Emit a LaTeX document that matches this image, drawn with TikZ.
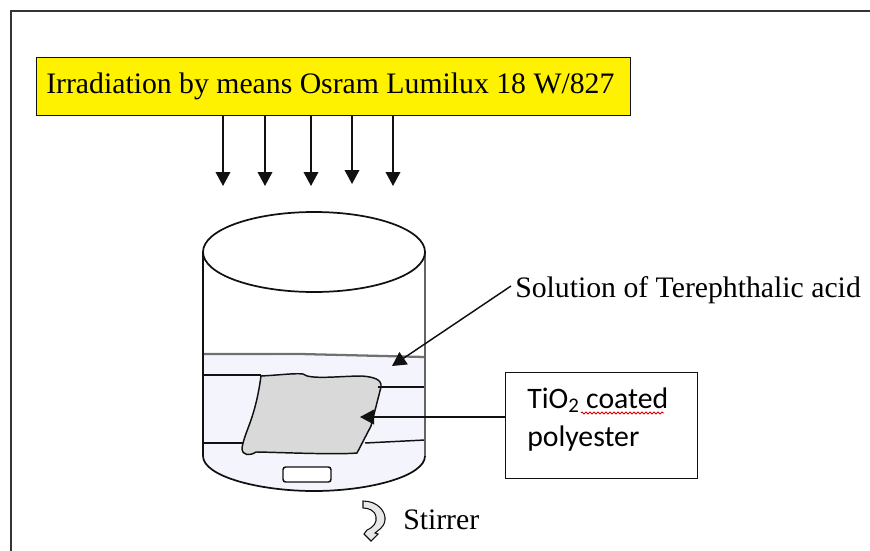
\documentclass[tikz,border=0pt]{standalone}
\usepackage{fontspec}
\setmainfont{Liberation Serif}
\newfontfamily\calibrifont{Carlito}
\usetikzlibrary{arrows.meta,decorations.pathmorphing}
\definecolor{ink}{HTML}{111111}
\definecolor{water}{HTML}{F4F4FC}
\definecolor{sheet}{HTML}{D9D9D9}
\definecolor{banner}{HTML}{FFF200}
\tikzset{
  line/.style={draw=ink,line width=1.3pt},
  thin line/.style={draw=ink,line width=1.1pt},
  arrowline/.style={draw=ink,line width=1.1pt,-{Triangle[length=10.5pt,width=11pt]}},
  serifText/.style={font=\fontsize{22.3}{24}\selectfont,text=black,inner sep=0pt,anchor=west},
  calibriText/.style={font=\calibrifont\fontsize{22.3}{24}\selectfont,text=black,inner sep=0pt,anchor=west}
}
\begin{document}
\begin{tikzpicture}[x=0.75pt,y=-0.75pt]
\useasboundingbox (0,0) rectangle (870,550);
\draw[draw=ink!85,line width=1.5pt] (11,600) -- (11,11) -- (900,11);
% banner
\node[draw=ink,line width=1.3pt,fill=banner,inner sep=0pt,anchor=north west,minimum width=445.5pt,minimum height=43.5pt] (banner) at (35.5,56.5) {};
\node[serifText] (bannertext) at (46,86) {Irradiation by means Osram Lumilux 18 W/827};
% arrows
\foreach \n/\x/\y in {a/223/186,b/265/186,c/311/186,d/352/184,e/393/186}{
  \coordinate (\n s) at (\x,116);
  \coordinate (\n e) at (\x,\y);
  \draw[arrowline] (\n s) -- (\n e);
}
% beaker liquid
\fill[water] (203,354) -- (425,358) -- (425,456) .. controls (425,476) and (370,491) .. (314,491) .. controls (258,491) and (203,476) .. (203,456) -- cycle;
% sheet
\filldraw[fill=sheet,draw=ink,line width=1.1pt] (261,376) .. controls (280,375) and (295,373) .. (303,374) .. controls (310,380) and (340,376) .. (362,376) .. controls (375,377) and (382,380) .. (381,387) -- (371,426) -- (357,453) .. controls (335,455) and (270,452) .. (256,452) .. controls (250,456) and (242,456) .. (242,448) .. controls (245,430) and (255,420) .. (261,376) -- cycle;
% lines
\draw[thin line] (203,375) -- (261,375);
\draw[thin line] (378,387) -- (425,387);
\draw[thin line] (365,443) -- (425,440);
\draw[thin line] (203,443) -- (243,443);
% beaker outline
\draw[draw=ink!60,line width=1.7pt] (203,354) -- (300,354) -- (425,357);
\draw[line] (203,252) -- (203,456) .. controls (203,476) and (258,491) .. (314,491) .. controls (370,491) and (425,476) .. (425,456);
\draw[draw=ink!65,line width=1.7pt] (425,456) -- (425,252);
\draw[line] (314,252) ellipse [x radius=111,y radius=40];
% stirrer bar
\draw[thin line,rounded corners=2pt,fill=white] (283,467) rectangle (331,482);
% coated box
\node[draw=ink,line width=1.3pt,fill=white,anchor=north west,inner sep=0pt,minimum width=144pt,minimum height=79.5pt] (tio) at (504.5,371.5) {};
\node[calibriText] (tiotext) at (527,400) {TiO\textsubscript{2} coated};
\node[calibriText] (tiotext2) at (527,439) {polyester};
\draw[red!85!black,line width=0.6pt,decorate,decoration={zigzag,segment length=3pt,amplitude=0.8pt}] (581,413) -- (664,413);
% labels
\node[serifText] (sol) at (515,290) {Solution of Terephthalic acid};
\node[serifText] (stir) at (403,520) {Stirrer};
% connectors
\coordinate (solend) at (392,366);
\draw[arrowline] ([xshift=-3pt,yshift=3pt]sol.west) -- (solend);
\coordinate (tiotip) at (360,417);
\draw[arrowline] (tio.west |- tiotip) -- (tiotip);
% rotation arrow
\filldraw[fill=sheet!60,draw=ink,line width=0.8pt] (363,501) .. controls (378,501) and (386,512) .. (385,520) .. controls (384,528) and (378,530) .. (375,533) -- (378,534) -- (371,541) -- (364,534) -- (367,530) .. controls (374,527) and (377,522) .. (376,517) .. controls (375,510) and (368,508) .. (363,508) -- cycle;
\end{tikzpicture}
\end{document}
